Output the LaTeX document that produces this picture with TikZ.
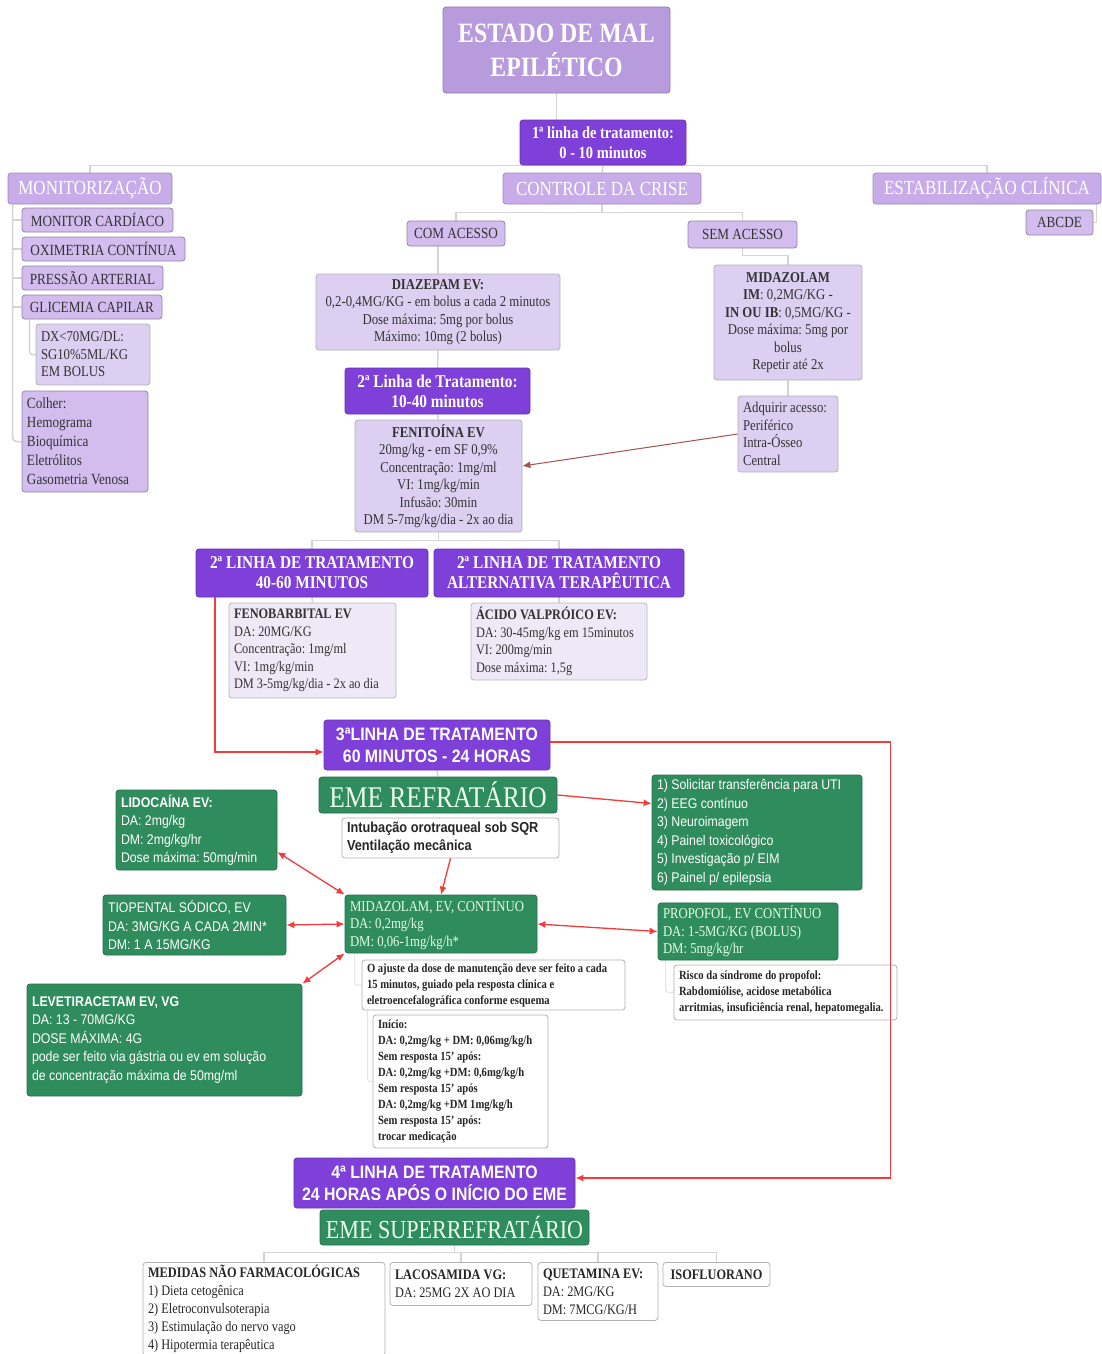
\documentclass[tikz,border=0pt]{standalone}
\usepackage{fontspec}
\setmainfont[FakeStretch=0.85]{Liberation Serif}
\setsansfont[FakeStretch=0.88]{Liberation Sans}
\usetikzlibrary{arrows.meta, positioning, calc, backgrounds}
\frenchspacing
\hyphenpenalty=10000
\exhyphenpenalty=10000

\definecolor{lavtitle}{HTML}{B79BDD}
\definecolor{lavhead}{HTML}{C8ACE9}
\definecolor{lavitem}{HTML}{D2BDEE}
\definecolor{lavlight}{HTML}{DDCFF2}
\definecolor{lavpale}{HTML}{EEE8F7}
\definecolor{deeppurple}{HTML}{7E40D8}
\definecolor{emegreen}{HTML}{2F8C5C}
\definecolor{treegrey}{HTML}{D4D4D4}
\definecolor{linkred}{HTML}{F43A3A}
\definecolor{brownred}{HTML}{A4524E}

\newcommand{\fsz}[2]{\fontsize{#1}{#2}\selectfont}

\tikzset{
  basebox/.style  ={rounded corners=3pt, inner sep=3pt, align=flush center, line width=0.8pt},
  lft/.style      ={align=flush left, inner xsep=5pt},
  titlebox/.style ={basebox, fill=lavtitle, draw=lavtitle!80!black, text=white,
                    font=\bfseries\fsz{28}{34}},
  headbox/.style  ={basebox, fill=lavhead, draw=lavhead!80!black, text=white,
                    font=\fsz{20}{22}},
  itembox/.style  ={basebox, fill=lavitem, draw=lavitem!70!black, text=black!80,
                    font=\fsz{15.5}{19}},
  lightbox/.style ={basebox, fill=lavlight, draw=gray!60, text=black!80,
                    font=\fsz{15}{17.5}},
  palebox/.style  ={basebox, lft, fill=lavpale, draw=gray!55, text=black!80,
                    font=\fsz{14.5}{17.5}},
  stagebox/.style ={basebox, fill=deeppurple, draw=deeppurple!80!black, text=white,
                    font=\bfseries\fsz{18}{20}},
  stagesans/.style={stagebox, font=\sffamily\bfseries\fsz{18}{22}},
  emebox/.style   ={basebox, fill=emegreen, draw=emegreen!80!black, text=white!92!green,
                    inner sep=1pt, font=\fsz{30}{32}},
  greenbox/.style ={basebox, lft, fill=emegreen, draw=emegreen!80!black, text=white,
                    font=\sffamily\fsz{14}{18.5}},
  greenserif/.style={greenbox, text=white!90!green, font=\fsz{15}{17.5}},
  notebox/.style  ={basebox, lft, fill=white, draw=gray!60, text=black!85,
                    font=\bfseries\fsz{12.5}{16}},
  notesans/.style ={notebox, font=\sffamily\bfseries\fsz{14.5}{18}},
  whitebox/.style ={basebox, lft, fill=white, draw=gray!60, text=black!85,
                    font=\fsz{14.5}{18}},
  tree/.style     ={draw=treegrey, line width=1.5pt},
  faint/.style    ={draw=black!10, line width=1pt, rounded corners=3pt},
  link/.style     ={draw=linkred, line width=1.3pt, -{Latex[length=8pt, width=7pt]}},
  both/.style     ={link, {Latex[length=8pt, width=7pt]}-{Latex[length=8pt, width=7pt]}},
  brownlink/.style={link, draw=brownred, line width=1pt},
}

\begin{document}
\begin{tikzpicture}[x=1pt, y=-1pt]
  \useasboundingbox (0,0) rectangle (1102,1354);

  % top of the map
  \node[titlebox, minimum width=227pt, minimum height=86pt] (title) at (556.5,50) {ESTADO DE MAL\\EPILÉTICO};
  \node[stagebox, minimum width=166pt, minimum height=45pt, font=\bfseries\fsz{17}{20}] (l1) at (603,142.5)
       {1ª linha de tratamento:\\0 - 10 minutos};
  \node[headbox, minimum width=164pt, minimum height=31pt] (mon)   at (90,188.5)  {MONITORIZAÇÃO};
  \node[headbox, minimum width=198pt, minimum height=31pt] (ctrl)  at (602,188.5) {CONTROLE DA CRISE};
  \node[headbox, minimum width=228pt, minimum height=31pt] (estab) at (987,188.5) {ESTABILIZAÇÃO CLÍNICA};
  \node[itembox, minimum width=67pt, minimum height=25pt]  (abcde) at (1059.5,222.5) {ABCDE};

  % monitorizacao
  \node[itembox, minimum width=151pt, minimum height=24pt] (card) at (97.5,220)  {MONITOR CARDÍACO};
  \node[itembox, minimum width=163pt, minimum height=24pt] (oxi)  at (103.5,249) {OXIMETRIA CONTÍNUA};
  \node[itembox, minimum width=141pt, minimum height=24pt] (pres) at (92.5,278)  {PRESSÃO ARTERIAL};
  \node[itembox, minimum width=140pt, minimum height=24pt] (glic) at (92,307)    {GLICEMIA CAPILAR};
  \node[lightbox, lft, text width=104pt, minimum height=61pt] (dx) at (93,354.5)
       {DX<70MG/DL:\\SG10\%5ML/KG\\EM BOLUS};
  \node[itembox, lft, text width=116pt, minimum height=101pt] (colher) at (85,441.5)
       {Colher:\\Hemograma\\Bioquímica\\Eletrólitos\\Gasometria Venosa};

  % controle da crise
  \node[itembox, minimum width=98pt, minimum height=25pt]  (com) at (456,233.5)   {COM ACESSO};
  \node[itembox, minimum width=109pt, minimum height=27pt] (sem) at (742.5,234.5) {SEM ACESSO};
  \node[lightbox, minimum width=244pt, minimum height=76pt] (diaz) at (438,312)
       {\textbf{DIAZEPAM EV:}\\0,2-0,4MG/KG - em bolus a cada 2 minutos\\Dose máxima: 5mg por bolus\\Máximo: 10mg (2 bolus)};
  \node[stagebox, minimum width=185pt, minimum height=46pt] (l2) at (437.5,391) {2ª Linha de Tratamento:\\10-40 minutos};
  \node[lightbox, minimum width=167pt, minimum height=112pt] (fenit) at (438.5,476)
       {\textbf{FENITOÍNA EV}\\20mg/kg - em SF 0,9\%\\Concentração: 1mg/ml\\VI: 1mg/kg/min\\Infusão: 30min\\DM 5-7mg/kg/dia - 2x ao dia};
  \node[lightbox, minimum width=148pt, minimum height=115pt] (midaz) at (788,322.5)
       {\textbf{MIDAZOLAM}\\\textbf{IM}: 0,2MG/KG -\\\textbf{IN OU IB}: 0,5MG/KG -\\Dose máxima: 5mg por\\bolus\\Repetir até 2x};
  \node[lightbox, lft, text width=90pt, minimum height=76pt] (adq) at (788,434)
       {Adquirir acesso:\\Periférico\\Intra-Ósseo\\Central};

  \node[stagebox, minimum width=232pt, minimum height=48pt] (l2a) at (312,573) {2ª LINHA DE TRATAMENTO\\40-60 MINUTOS};
  \node[stagebox, minimum width=250pt, minimum height=48pt] (l2b) at (559,573) {2ª LINHA DE TRATAMENTO\\ALTERNATIVA TERAPÊUTICA};
  \node[palebox, text width=157pt, minimum height=95pt] (feno) at (312.5,650.5)
       {\textbf{FENOBARBITAL EV}\\DA: 20MG/KG\\Concentração: 1mg/ml\\VI: 1mg/kg/min\\DM 3-5mg/kg/dia - 2x ao dia};
  \node[palebox, text width=166pt, minimum height=77pt] (valp) at (559,641.5)
       {\textbf{ÁCIDO VALPRÓICO EV:}\\DA: 30-45mg/kg em 15minutos\\VI: 200mg/min\\Dose máxima: 1,5g};

  % 3a linha
  \node[stagesans, minimum width=226pt, minimum height=50pt] (l3) at (437,745) {3ªLINHA DE TRATAMENTO\\60 MINUTOS - 24 HORAS};
  \node[emebox, minimum width=238pt, minimum height=36pt] (eme) at (438,795) {EME REFRATÁRIO};
  \node[notesans, text width=207pt, minimum height=40pt] (intub) at (450.5,838)
       {Intubação orotraqueal sob SQR\\Ventilação mecânica};
  \node[greenbox, text width=200pt, minimum height=115pt] (uti) at (757,832.5)
       {1) Solicitar transferência para UTI\\2) EEG contínuo\\3) Neuroimagem\\4) Painel toxicológico\\5) Investigação p/ EIM\\6) Painel p/ epilepsia};
  \node[greenserif, text width=182pt, minimum height=58pt] (midc) at (441,924)
       {MIDAZOLAM, EV, CONTÍNUO\\DA: 0,2mg/kg\\DM: 0,06-1mg/kg/h*};
  \node[greenbox, text width=151pt, minimum height=80pt] (lido) at (196.5,830)
       {\textbf{LIDOCAÍNA EV:}\\DA: 2mg/kg\\DM: 2mg/kg/hr\\Dose máxima: 50mg/min};
  \node[greenbox, text width=173pt, minimum height=60pt] (tiop) at (194.5,925)
       {TIOPENTAL SÓDICO, EV\\DA: 3MG/KG A CADA 2MIN*\\DM: 1 A 15MG/KG};
  \node[greenbox, text width=265pt, minimum height=112pt] (leve) at (164.5,1040)
       {\textbf{LEVETIRACETAM EV, VG}\\DA: 13 - 70MG/KG\\DOSE MÁXIMA: 4G\\* pode ser feito via gástria ou ev em solução\\de concentração máxima de 50mg/ml};
  \node[greenserif, text width=170pt, minimum height=57pt] (prop) at (748,931.5)
       {PROPOFOL, EV CONTÍNUO\\DA: 1-5MG/KG (BOLUS)\\DM: 5mg/kg/hr};
  \node[notebox, text width=253pt, minimum height=50pt] (ajuste) at (493.5,985)
       {O ajuste da dose de manutenção deve ser feito a cada\\15 minutos, guiado pela resposta clínica e\\eletroencefalográfica conforme esquema};
  \node[notebox, text width=213pt, minimum height=55pt] (risco) at (785.5,992.5)
       {Risco da síndrome do propofol:\\Rabdomiólise, acidose metabólica\\arritmias, insuficiência renal, hepatomegalia.};
  \node[notebox, text width=165pt, minimum height=133pt] (inicio) at (460.5,1081.5)
       {Início:\\DA: 0,2mg/kg + DM: 0,06mg/kg/h\\Sem resposta 15' após:\\DA: 0,2mg/kg +DM: 0,6mg/kg/h\\Sem resposta 15' após\\DA: 0,2mg/kg +DM 1mg/kg/h\\Sem resposta 15' após:\\trocar medicação};

  % 4a linha
  \node[stagesans, minimum width=281pt, minimum height=50pt] (l4) at (434.5,1183)
       {4ª LINHA DE TRATAMENTO\\24 HORAS APÓS O INÍCIO DO EME};
  \node[emebox, minimum width=269pt, minimum height=35pt, font=\fsz{26}{28}] (super) at (454.5,1227.5) {EME SUPERREFRATÁRIO};
  \node[whitebox, anchor=north, text width=232pt] (medidas) at (264,1262)
       {\textbf{MEDIDAS NÃO FARMACOLÓGICAS}\\1) Dieta cetogênica\\2) Eletroconvulsoterapia\\3) Estimulação do nervo vago\\4) Hipotermia terapêutica};
  \node[whitebox, anchor=north, text width=132pt, minimum height=43pt] (laco) at (461,1262)
       {\textbf{LACOSAMIDA VG:}\\DA: 25MG 2X AO DIA};
  \node[whitebox, anchor=north, text width=110pt, minimum height=58pt] (quet) at (598,1262)
       {\textbf{QUETAMINA EV:}\\DA: 2MG/KG\\DM: 7MCG/KG/H};
  \node[whitebox, anchor=north, align=flush center, minimum width=107pt, minimum height=24pt] (iso) at (716.5,1262)
       {\textbf{ISOFLUORANO}};

  % red links
  \draw[link] ([xshift=-97pt]l2a.south) |- ([yshift=-7pt]l3.west);
  \draw[link] ([yshift=3pt]l3.east) -- ++(340,0) |- ([yshift=5pt]l4.east);
  \draw[link] (eme.east) -- ([yshift=29pt]uti.west);
  \draw[link] (intub.south) -- (midc.north);
  \draw[both] ([yshift=-22pt]lido.east) -- (midc.north west);
  \draw[both] (tiop.east) -- (midc.west);
  \draw[both] (leve.north east) -- (midc.south west);
  \draw[both] (midc.east) -- (prop.west);
  \draw[brownlink] (adq.west) -- ([yshift=10pt]fenit.east);

  \begin{scope}[on background layer]
    \fill[white] (0,0) rectangle (1102,1354);
    \draw[tree] (title.south) -- (title.south |- l1.north);
    \draw[tree] (mon.north) |- (l1.south) -| (estab.north);
    \draw[tree] (l1.south) -- (ctrl.north);
    \draw[tree] (abcde.east) -| ([xshift=-5pt]estab.south east);
    \coordinate (monspine) at ([xshift=5pt]mon.south west);
    \draw[tree, rounded corners=4pt] (monspine) |- (colher.west);
    \foreach \n in {card,oxi,pres,glic}
      \draw[tree] (monspine |- \n.west) -- (\n.west);
    \draw[tree, rounded corners=3pt] ([xshift=8pt]glic.south west) |- (dx.west);
    \draw[tree] (ctrl.south) -- ++(0,8) coordinate (cbus);
    \draw[tree] (com.north) |- (cbus) -| (sem.north);
    \draw[tree] (diaz.north) -- (diaz.north |- com.south);
    \draw[tree] (diaz.south) -- (l2.north);
    \draw[tree] (l2.south) -- (fenit.north);
    \draw[tree] (sem.south) -- ++(0,7) -| (midaz.north);
    \draw[tree] (midaz.south) -- (adq.north);
    \draw[tree] (fenit.south) -- ++(0,8) coordinate (fbus);
    \draw[tree] (l2a.north) |- (fbus) -| (l2b.north);
    \draw[tree] (l2a.south) -- (feno.north);
    \draw[tree] (l2b.south) -- (valp.north);
    \draw[tree] (l3.south) -- (eme.north);
    \draw[tree] (super.south) -- ++(0,7) coordinate (sbus);
    \draw[tree] (medidas.north) |- (sbus) -| (iso.north);
    \draw[tree] (laco.north) -- (laco.north |- sbus);
    \draw[tree] (quet.north) -- (quet.north |- sbus);
    \draw[faint] ([xshift=10pt]midc.south west) |- (ajuste.west);
    \draw[faint] ([xshift=8pt]prop.south west) |- (risco.west);
    \draw[faint] ([xshift=6pt]ajuste.south west) |- (inicio.west);
  \end{scope}
\end{tikzpicture}
\end{document}
